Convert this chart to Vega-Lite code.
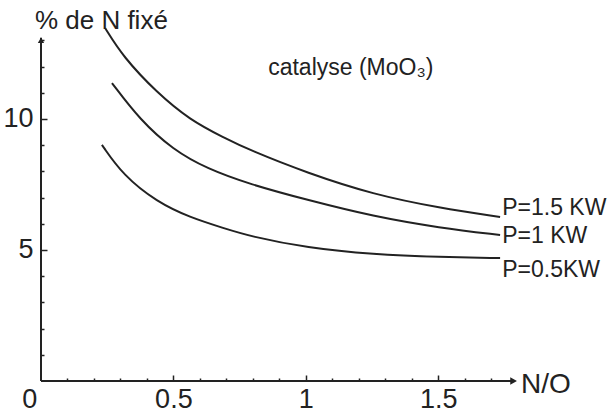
{
  "$schema": "https://vega.github.io/schema/vega-lite/v6.json",
  "autosize": "none",
  "width": 556,
  "height": 380,
  "padding": {"left": 41, "top": 1, "right": 14, "bottom": 33},
  "background": "white",
  "config": {"view": {"stroke": null}, "font": "Liberation Sans"},
  "encoding": {
    "x": {"field": "x", "type": "quantitative", "scale": {"domain": [0, 2.1], "nice": false, "zero": false},
      "axis": {"title": null, "domain": false, "grid": false,
        "values": [0.1,0.2,0.3,0.4,0.5,0.6,0.7,0.8,0.9,1,1.1,1.2,1.3,1.4,1.5,1.6,1.7],
        "labelExpr": "datum.value==0.5?'0.5':datum.value==1?'1':datum.value==1.5?'1.5':''",
        "tickSize": {"condition": {"test": "datum.value==0.5||datum.value==1||datum.value==1.5", "value": -6}, "value": -3},
        "tickColor": "#222", "tickWidth": 1.5,
        "labelFont": "Liberation Sans", "labelFontSize": 27, "labelColor": "#222", "labelPadding": 11}},
    "y": {"field": "y", "type": "quantitative", "scale": {"domain": [0, 14.5], "nice": false, "zero": false},
      "axis": {"title": null, "domain": false, "grid": false,
        "values": [1,2,3,4,5,6,7,8,9,10,11,12,13],
        "labelExpr": "datum.value==5?'5':datum.value==10?'10':''",
        "tickSize": {"condition": {"test": "datum.value==5||datum.value==10", "value": -6}, "value": -3},
        "tickColor": "#222", "tickWidth": 1.5,
        "labelFont": "Liberation Sans", "labelFontSize": 27, "labelColor": "#222", "labelPadding": 14}}
  },
  "layer": [
    {
      "data": {"values": [
        {"x": 0, "x2": 1.79, "y": 0, "y2": 0},
        {"x": 0, "x2": 0, "y": 0, "y2": 13.1}
      ]},
      "mark": {"type": "rule", "color": "#222", "strokeWidth": 2},
      "encoding": {"x2": {"field": "x2"}, "y2": {"field": "y2"}}
    },
    {
      "data": {"values": [{"x": 1.785, "y": 0}]},
      "mark": {"type": "point", "shape": "triangle-right", "filled": true, "color": "#222", "size": 60, "opacity": 1}
    },
    {
      "data": {"values": [{"x": 0, "y": 13.0}]},
      "mark": {"type": "point", "shape": "triangle-up", "filled": true, "color": "#222", "size": 40, "opacity": 1}
    },
    {
      "data": {"values": [
        {"P": "1.5", "x": 0.242, "y": 13.47},
        {"P": "1.5", "x": 0.310, "y": 12.37},
        {"P": "1.5", "x": 0.438, "y": 11.0},
        {"P": "1.5", "x": 0.563, "y": 9.96},
        {"P": "1.5", "x": 0.688, "y": 9.3},
        {"P": "1.5", "x": 0.790, "y": 8.8},
        {"P": "1.5", "x": 1.005, "y": 7.94},
        {"P": "1.5", "x": 1.254, "y": 7.12},
        {"P": "1.5", "x": 1.507, "y": 6.6},
        {"P": "1.5", "x": 1.734, "y": 6.26},
        {"P": "1", "x": 0.268, "y": 11.37},
        {"P": "1", "x": 0.374, "y": 9.96},
        {"P": "1", "x": 0.499, "y": 8.82},
        {"P": "1", "x": 0.627, "y": 8.1},
        {"P": "1", "x": 0.790, "y": 7.5},
        {"P": "1", "x": 1.005, "y": 6.91},
        {"P": "1", "x": 1.254, "y": 6.28},
        {"P": "1", "x": 1.507, "y": 5.84},
        {"P": "1", "x": 1.734, "y": 5.57},
        {"P": "0.5", "x": 0.230, "y": 9.01},
        {"P": "0.5", "x": 0.310, "y": 7.85},
        {"P": "0.5", "x": 0.438, "y": 6.83},
        {"P": "0.5", "x": 0.563, "y": 6.24},
        {"P": "0.5", "x": 0.688, "y": 5.84},
        {"P": "0.5", "x": 0.790, "y": 5.52},
        {"P": "0.5", "x": 1.005, "y": 5.08},
        {"P": "0.5", "x": 1.254, "y": 4.83},
        {"P": "0.5", "x": 1.507, "y": 4.73},
        {"P": "0.5", "x": 1.734, "y": 4.69}
      ]},
      "mark": {"type": "line", "interpolate": "basis", "color": "#222", "strokeWidth": 2},
      "encoding": {"detail": {"field": "P"}}
    },
    {
      "data": {"values": [
        {"x": -0.023, "y": 13.43, "label": "% de N fixé"}
      ]},
      "mark": {"type": "text", "align": "left", "baseline": "alphabetic", "font": "Liberation Sans", "fontSize": 26, "color": "#222"},
      "encoding": {"text": {"field": "label"}}
    },
    {
      "data": {"values": [
        {"x": 0.858, "y": 11.68, "label": "catalyse (MoO₃)"}
      ]},
      "mark": {"type": "text", "align": "left", "baseline": "alphabetic", "font": "Liberation Sans", "fontSize": 23, "color": "#222"},
      "encoding": {"text": {"field": "label"}}
    },
    {
      "data": {"values": [
        {"x": 1.742, "y": 6.34, "label": "P=1.5 KW"},
        {"x": 1.742, "y": 5.27, "label": "P=1 KW"},
        {"x": 1.742, "y": 3.97, "label": "P=0.5KW"}
      ]},
      "mark": {"type": "text", "align": "left", "baseline": "alphabetic", "font": "Liberation Sans", "fontSize": 23, "color": "#222"},
      "encoding": {"text": {"field": "label"}}
    },
    {
      "data": {"values": [
        {"x": 1.813, "y": -0.46, "label": "N/O"}
      ]},
      "mark": {"type": "text", "align": "left", "baseline": "alphabetic", "font": "Liberation Sans", "fontSize": 28, "color": "#222"},
      "encoding": {"text": {"field": "label"}}
    },
    {
      "data": {"values": [{"x": -0.042, "y": -1.03, "label": "0"}]},
      "mark": {"type": "text", "align": "center", "baseline": "alphabetic", "font": "Liberation Sans", "fontSize": 27, "color": "#222"},
      "encoding": {"text": {"field": "label"}}
    }
  ]
}
